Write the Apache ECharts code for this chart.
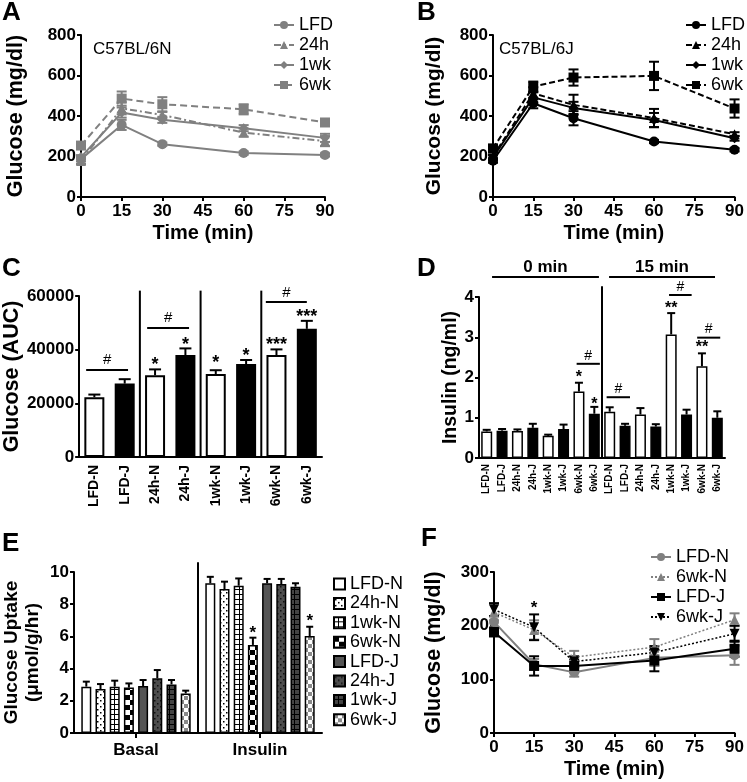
<!DOCTYPE html>
<html><head><meta charset="utf-8">
<script src="https://cdn.jsdelivr.net/npm/echarts@6/dist/echarts.min.js"></script>
<style>html,body{margin:0;padding:0;background:#fff}#c{width:747px;height:782px}</style>
</head><body><div id="c"></div>
<script>
// ---------- DATA ----------
const timePoints = [0, 15, 30, 60, 90];
// Panel A (C57BL/6N)
const aLFD = [187, 356, 261, 217, 208];   const aLFDErr = [12, 25, 8, 8, 8];
const a24h = [178, 438, 405, 318, 276];   const a24hErr = [15, 30, 15, 20, 25];
const a1wk = [197, 417, 381, 340, 292];   const a1wkErr = [10, 25, 15, 15, 20];
const a6wk = [254, 486, 458, 433, 368];   const a6wkErr = [10, 35, 35, 25, 15];
// Panel B (C57BL/6J)
const bLFD = [179, 463, 389, 274, 233];   const bLFDErr = [10, 25, 35, 8, 8];
const b24h = [200, 512, 455, 390, 310];   const b24hErr = [10, 30, 50, 45, 10];
const b1wk = [195, 492, 440, 380, 290];   const b1wkErr = [10, 25, 30, 35, 12];
const b6wk = [240, 545, 590, 598, 437];   const b6wkErr = [10, 25, 40, 70, 45];
const groupNames = ['LFD', '24h', '1wk', '6wk'];
// Panel C (AUC)
const cCats = ['LFD-N','LFD-J','24h-N','24h-J','1wk-N','1wk-J','6wk-N','6wk-J'];
const cVals = [22270, 27350, 30450, 38000, 30940, 34650, 38000, 47770];
const cErrs = [1000, 1650, 2200, 2470, 1400, 1500, 2100, 2970];
const cDividers = [1.5, 3.5, 5.5];
const cDividerTop = 62000;
const cSigLines = [[-0.27, 1.11, 32400, 36150], [1.74, 3.12, 48080, 51800], [5.65, 7.0, 57770, 61100]];
const cStars = [[2, '*', 36150], [3, '*', 43600], [4, '*', 36900], [5, '*', 39500], [6, '***', 43600], [7, '***', 54000]];
// Panel D (insulin)
const dCats = ['LFD-N','LFD-J','24h-N','24h-J','1wk-N','1wk-J','6wk-N','6wk-J','LFD-N','LFD-J','24h-N','24h-J','1wk-N','1wk-J','6wk-N','6wk-J'];
const dVals = [0.66, 0.68, 0.67, 0.75, 0.55, 0.72, 1.65, 1.10, 1.15, 0.80, 1.08, 0.78, 3.07, 1.08, 2.28, 1.00];
const dErrs = [0.04, 0.04, 0.04, 0.10, 0.03, 0.11, 0.22, 0.17, 0.11, 0.05, 0.16, 0.06, 0.53, 0.12, 0.32, 0.16];
const dDividers = [7.5];
const dDividerTop = 4.27;
const dHeaders = [['0 min', 0.35, 7.3], ['15 min', 7.96, 14.85]];
const dHeaderLineY = 4.5, dHeaderTextY = 4.75;
const dSigLines = [[5.85, 7.36, 2.34, 2.53], [7.8, 9.32, 1.51, 1.72], [11.86, 13.33, 4.05, 4.25], [13.69, 15.19, 2.99, 3.2]];
const dStars = [[6, '*', 2.1], [7, '*', 1.44], [12, '**', 3.83], [14, '**', 2.86]];
// Panel E (glucose uptake)
const eCats = ['Basal', 'Insulin'];
const eNames = ['LFD-N','24h-N','1wk-N','6wk-N','LFD-J','24h-J','1wk-J','6wk-J'];
const eBasal = [2.88, 2.73, 2.88, 2.82, 2.92, 3.40, 3.02, 2.46];
const eBasalErr = [0.31, 0.31, 0.37, 0.26, 0.37, 0.51, 0.27, 0.17];
const eInsulin = [9.30, 8.94, 9.15, 5.47, 9.30, 9.25, 9.09, 6.02];
const eInsulinErr = [0.40, 0.46, 0.45, 0.45, 0.27, 0.32, 0.21, 0.58];
const eDividers = [0.5];
const eDividerTop = 10.6;
const eStars = [[1, 3, '*', 6.46], [1, 7, '*', 7.22]];
// Panel F (ITT)
const fNames = ['LFD-N', '6wk-N', 'LFD-J', '6wk-J'];
const fLFDN = [207, 128, 113, 140, 145];  const fLFDNErr = [10, 10, 8, 15, 18];
const f6wkN = [225, 192, 141, 160, 211];  const f6wkNErr = [15, 18, 12, 15, 12];
const fLFDJ = [188, 125, 125, 135, 157];  const fLFDJErr = [8, 18, 12, 20, 15];
const f6wkJ = [230, 197, 133, 150, 185];  const f6wkJErr = [12, 24, 10, 12, 15];
const fStars = [[15, '*', 242]];

// ---------- STYLE ----------
const FONT = '"Liberation Sans", Arial, Helvetica, sans-serif';
const GRAY = '#808080';
const BLACK = '#000';

function makePattern(kind, bg, fg, s) {
  const cv = document.createElement('canvas');
  const ctx = cv.getContext('2d');
  if (kind === 'dots') {
    cv.width = 6; cv.height = 6;
    ctx.fillStyle = bg; ctx.fillRect(0, 0, 6, 6);
    ctx.fillStyle = fg; ctx.fillRect(1, 1, 1.5, 1.5); ctx.fillRect(4, 4, 1.5, 1.5);
  } else if (kind === 'grid') {
    cv.width = 5; cv.height = 5;
    ctx.fillStyle = bg; ctx.fillRect(0, 0, 5, 5);
    ctx.fillStyle = fg; ctx.fillRect(4, 0, 1, 5); ctx.fillRect(0, 4, 5, 1);
  } else if (kind === 'check') {
    cv.width = 2 * s; cv.height = 2 * s;
    ctx.fillStyle = bg; ctx.fillRect(0, 0, 2 * s, 2 * s);
    ctx.fillStyle = fg; ctx.fillRect(0, 0, s, s); ctx.fillRect(s, s, s, s);
  } else {
    cv.width = 4; cv.height = 4; ctx.fillStyle = bg; ctx.fillRect(0, 0, 4, 4);
  }
  return { image: cv, repeat: 'repeat' };
}
const eFills = [
  '#ffffff',
  makePattern('dots', '#ffffff', '#000000'),
  makePattern('grid', '#ffffff', '#000000'),
  makePattern('check', '#ffffff', '#000000', 5),
  '#555555',
  makePattern('dots', '#4d4d4d', '#111111'),
  makePattern('grid', '#444444', '#000000'),
  makePattern('check', '#ffffff', '#8a8a8a', 4)
];

const grids = [
  { left: 81, top: 35, width: 244, height: 162 },
  { left: 493, top: 35, width: 243, height: 162 },
  { left: 79, top: 296, width: 243, height: 161 },
  { left: 479, top: 297, width: 246, height: 161 },
  { left: 74, top: 572, width: 248, height: 161 },
  { left: 494, top: 572, width: 242, height: 161 }
];

const axLine = { show: true, onZero: false, lineStyle: { color: '#000', width: 2 } };
const axTick = { show: true, length: 4, lineStyle: { color: '#000', width: 2 } };
const tickLab = { color: '#000', fontFamily: FONT, fontWeight: 'bold', fontSize: 17 };
const nameStyle = { color: '#000', fontFamily: FONT, fontWeight: 'bold', fontSize: 20 };

function timeX(gi) {
  return { type: 'value', gridIndex: gi, min: 0, max: 90, interval: 15,
    axisLine: axLine, axisTick: axTick, splitLine: { show: false },
    axisLabel: Object.assign({ margin: 6 }, tickLab),
    name: 'Time (min)', nameLocation: 'middle', nameGap: 26, nameTextStyle: nameStyle };
}
function valY(gi, max, interval, name, gap, fs) {
  return { type: 'value', gridIndex: gi, min: 0, max: max, interval: interval,
    axisLine: axLine, axisTick: axTick, splitLine: { show: false },
    axisLabel: Object.assign({ margin: 5, formatter: v => String(v) }, tickLab),
    name: name, nameLocation: 'middle', nameRotate: 90, nameGap: gap,
    nameTextStyle: Object.assign({}, nameStyle, { fontSize: fs, lineHeight: 21 }) };
}
function catX(gi, cats, fs, margin, rotate, tick) {
  return { type: 'category', gridIndex: gi, data: cats,
    axisLine: axLine,
    axisTick: tick ? { show: true, alignWithLabel: true, length: 5, lineStyle: { color: '#000', width: 2 } } : { show: false },
    axisLabel: { color: '#000', fontFamily: FONT, fontWeight: 'bold', fontSize: fs, margin: margin, rotate: rotate, interval: 0 } };
}

const L = (x1, y1, x2, y2, c, w) => ({ type: 'line', shape: { x1, y1, x2, y2 }, style: { stroke: c, lineWidth: w } });
const T = (text, x, y, fs, weight) => ({ type: 'text', style: { text, x, y, font: weight + ' ' + fs + 'px ' + FONT, fill: '#000', align: 'center', verticalAlign: 'middle' } });

function lineSer(panel, gi, name, ys, sym, color, dash, lw, rot) {
  return { type: 'line', name: panel + '|' + name, xAxisIndex: gi, yAxisIndex: gi,
    data: timePoints.map((t, i) => [t, ys[i]]), symbol: sym, symbolSize: 10, symbolRotate: rot || 0,
    itemStyle: { color: color }, lineStyle: { color: color, width: lw, type: dash }, z: 4, animation: false };
}
function lineErr(gi, ys, errs, color, cap) {
  return { type: 'custom', xAxisIndex: gi, yAxisIndex: gi, silent: true, z: 3,
    data: timePoints.map((t, i) => [t, ys[i], errs[i]]),
    renderItem: (p, api) => {
      const x = api.value(0), m = api.value(1), e = api.value(2);
      const a = api.coord([x, m + e]), b = api.coord([x, m - e]);
      return { type: 'group', children: [
        L(a[0], a[1], b[0], b[1], color, 2),
        L(a[0] - cap / 2, a[1], a[0] + cap / 2, a[1], color, 2),
        L(b[0] - cap / 2, b[1], b[0] + cap / 2, b[1], color, 2)] };
    } };
}
function barErr(gi, vals, errs, cap, lw, offsetFn) {
  return { type: 'custom', xAxisIndex: gi, yAxisIndex: gi, silent: true, z: 5,
    data: vals.map((v, i) => [i, v, errs[i]]),
    renderItem: (p, api) => {
      const i = api.value(0), m = api.value(1), e = api.value(2);
      const dx = offsetFn ? offsetFn() : 0;
      const a = api.coord([i, m]), b = api.coord([i, m + e]);
      return { type: 'group', children: [
        L(a[0] + dx, a[1], b[0] + dx, b[1], '#000', lw),
        L(b[0] + dx - cap / 2, b[1], b[0] + dx + cap / 2, b[1], '#000', lw)] };
    } };
}
// annotation layer for a category panel: dividers, significance lines, stars, headers
function annoSer(gi, opts) {
  return { type: 'custom', xAxisIndex: gi, yAxisIndex: gi, silent: true, z: 6, data: [[0, 0]],
    renderItem: (p, api) => {
      const c0 = api.coord([0, 0]);
      const band = api.size([1, 0])[0];
      const px = f => c0[0] + f * band;
      const py = v => api.coord([0, v])[1];
      const ch = [];
      (opts.dividers || []).forEach(d => ch.push(L(px(d), py(0), px(d), py(opts.dividerTop), '#000', 2)));
      (opts.sig || []).forEach(s => {
        ch.push(L(px(s[0]), py(s[2]), px(s[1]), py(s[2]), '#000', 2));
        ch.push(T('#', (px(s[0]) + px(s[1])) / 2, py(s[3]), opts.hashSize, 'normal'));
      });
      (opts.stars || []).forEach(s => ch.push(T(s[1], px(s[0]), py(s[2]) + opts.starSize * 0.28, opts.starSize, 'bold')));
      (opts.headers || []).forEach(h => {
        ch.push(L(px(h[1]), py(opts.headerLineY), px(h[2]), py(opts.headerLineY), '#000', 2));
        ch.push(T(h[0], (px(h[1]) + px(h[2])) / 2, py(opts.headerTextY), 17, 'bold'));
      });
      return { type: 'group', children: ch };
    } };
}

// ---------- BUILD ----------
const aSym = ['circle', 'triangle', 'diamond', 'rect'];
const aDash = ['solid', [7, 3, 2, 3], 'solid', [7, 4]];
const bDash = ['solid', [6, 3], 'solid', [6, 3]];
const aData = [aLFD, a24h, a1wk, a6wk], aErr = [aLFDErr, a24hErr, a1wkErr, a6wkErr];
const bData = [bLFD, b24h, b1wk, b6wk], bErr = [bLFDErr, b24hErr, b1wkErr, b6wkErr];
const fData = [fLFDN, f6wkN, fLFDJ, f6wkJ], fErr = [fLFDNErr, f6wkNErr, fLFDJErr, f6wkJErr];
const fSym = ['circle', 'triangle', 'rect', 'triangle'];
const fRot = [0, 0, 0, 180];
const fCol = [GRAY, GRAY, BLACK, BLACK];
const fDash = ['solid', [2, 2], 'solid', [2, 2]];
const fWidth = [2, 1.5, 2, 1.5];

const series = [];
groupNames.forEach((g, k) => {
  series.push(lineErr(0, aData[k], aErr[k], GRAY, 10));
  series.push(lineSer('A', 0, g, aData[k], aSym[k], GRAY, aDash[k], 2));
});
groupNames.forEach((g, k) => {
  series.push(lineErr(1, bData[k], bErr[k], BLACK, 10));
  series.push(lineSer('B', 1, g, bData[k], aSym[k], BLACK, bDash[k], 2));
});
fNames.forEach((g, k) => {
  series.push(lineErr(5, fData[k], fErr[k], fCol[k], 10));
  series.push(lineSer('F', 5, g, fData[k], fSym[k], fCol[k], fDash[k], fWidth[k], fRot[k]));
});
// C bars
series.push({ type: 'bar', xAxisIndex: 2, yAxisIndex: 2, barWidth: 20, z: 2,
  data: cVals.map((v, i) => ({ value: v, itemStyle: { color: i % 2 ? '#000' : '#fff' } })),
  itemStyle: { borderColor: '#000', borderWidth: 2 } });
series.push(barErr(2, cVals, cErrs, 12, 2));
series.push(annoSer(2, { dividers: cDividers, dividerTop: cDividerTop, sig: cSigLines, stars: cStars, hashSize: 15, starSize: 18 }));
// D bars
series.push({ type: 'bar', xAxisIndex: 3, yAxisIndex: 3, barWidth: 11, z: 2,
  data: dVals.map((v, i) => ({ value: v, itemStyle: { color: i % 2 ? '#000' : '#fff' } })),
  itemStyle: { borderColor: '#000', borderWidth: 1.5 } });
series.push(barErr(3, dVals, dErrs, 8, 2));
series.push(annoSer(3, { dividers: dDividers, dividerTop: dDividerTop, sig: dSigLines, stars: dStars, hashSize: 14, starSize: 16,
  headers: dHeaders, headerLineY: dHeaderLineY, headerTextY: dHeaderTextY }));
// E bars
const E_BW = 10, E_STEP = 14.2;
eNames.forEach((n, k) => {
  series.push({ type: 'bar', name: 'E|' + n, xAxisIndex: 4, yAxisIndex: 4, barWidth: E_BW, barGap: '42%', z: 2,
    data: [eBasal[k], eInsulin[k]],
    itemStyle: { color: eFills[k], borderColor: '#000', borderWidth: 1.5 } });
});
eNames.forEach((n, k) => {
  series.push(barErr(4, [eBasal[k], eInsulin[k]], [eBasalErr[k], eInsulinErr[k]], 7, 2, () => (k - 3.5) * E_STEP));
});
series.push({ type: 'custom', xAxisIndex: 4, yAxisIndex: 4, silent: true, z: 6, data: [[0, 0]],
  renderItem: (p, api) => {
    const c0 = api.coord([0, 0]); const band = api.size([1, 0])[0];
    const ch = [];
    eDividers.forEach(d => { const x = c0[0] + d * band; ch.push(L(x, api.coord([0, 0])[1], x, api.coord([0, eDividerTop])[1], '#000', 2)); });
    eStars.forEach(s => { const x = c0[0] + s[0] * band + (s[1] - 3.5) * E_STEP; ch.push(T(s[2], x, api.coord([0, s[3]])[1] + 17 * 0.28, 17, 'bold')); });
    return { type: 'group', children: ch };
  } });
// F stars
series.push({ type: 'custom', xAxisIndex: 5, yAxisIndex: 5, silent: true, z: 6, data: fStars.map(s => [s[0], s[2]]),
  renderItem: (p, api) => { const c = api.coord([api.value(0), api.value(1)]); return T(fStars[p.dataIndex][1], c[0], c[1] + 17 * 0.28, 17, 'bold'); } });

const legendText = { color: '#000', fontFamily: FONT, fontSize: 18, lineHeight: 17 };
const strip = n => n.split('|')[1];
const option = {
  animation: false,
  backgroundColor: '#fff',
  textStyle: { fontFamily: FONT },
  grid: grids,
  xAxis: [timeX(0), timeX(1),
    catX(2, cCats, 14, 8, 90, false),
    catX(3, dCats, 10, 6, 90, false),
    catX(4, eCats, 17, 9, 0, true),
    timeX(5)],
  yAxis: [valY(0, 800, 200, 'Glucose (mg/dl)', 54, 21.5),
    valY(1, 800, 200, 'Glucose (mg/dl)', 48, 21),
    valY(2, 60000, 20000, 'Glucose (AUC)', 52, 21.5),
    valY(3, 4, 1, 'Insulin (ng/ml)', 18, 19.5),
    valY(4, 10, 2, 'Glucose Uptake\n(μmol/g/hr)', 31, 19),
    valY(5, 300, 100, 'Glucose (mg/dl)', 49, 21.5)],
  legend: [
    { orient: 'vertical', left: 268, top: 11, itemWidth: 20, itemHeight: 10, itemGap: 2, selectedMode: false,
      data: groupNames.map(g => 'A|' + g), formatter: strip, textStyle: legendText },
    { orient: 'vertical', left: 680, top: 11, itemWidth: 20, itemHeight: 10, itemGap: 2, selectedMode: false,
      data: groupNames.map(g => 'B|' + g), formatter: strip, textStyle: legendText },
    { orient: 'vertical', left: 328, top: 570, itemWidth: 11, itemHeight: 11, itemGap: 1.4, selectedMode: false, icon: 'rect',
      data: eNames.map(g => 'E|' + g), formatter: strip, textStyle: { color: '#000', fontFamily: FONT, fontSize: 18, lineHeight: 13 } },
    { orient: 'vertical', left: 645, top: 543, itemWidth: 20, itemHeight: 10, itemGap: 2, selectedMode: false,
      data: fNames.map(g => 'F|' + g), formatter: strip, textStyle: Object.assign({}, legendText, { lineHeight: 16 }) }
  ],
  graphic: [
    { type: 'text', left: 2, top: 0, style: { text: 'A', font: 'bold 26px ' + FONT, fill: '#000' } },
    { type: 'text', left: 417, top: 0, style: { text: 'B', font: 'bold 26px ' + FONT, fill: '#000' } },
    { type: 'text', left: 2, top: 256, style: { text: 'C', font: 'bold 26px ' + FONT, fill: '#000' } },
    { type: 'text', left: 417, top: 256, style: { text: 'D', font: 'bold 26px ' + FONT, fill: '#000' } },
    { type: 'text', left: 2, top: 531, style: { text: 'E', font: 'bold 26px ' + FONT, fill: '#000' } },
    { type: 'text', left: 421, top: 526, style: { text: 'F', font: 'bold 26px ' + FONT, fill: '#000' } },
    { type: 'text', left: 93, top: 41, style: { text: 'C57BL/6N', font: '17px ' + FONT, fill: '#000' } },
    { type: 'text', left: 499, top: 41, style: { text: 'C57BL/6J', font: '17px ' + FONT, fill: '#000' } }
  ],
  series: series
};
const chart = echarts.init(document.getElementById('c'), null, { renderer: 'canvas', width: 747, height: 782 });
chart.setOption(option);
</script></body></html>
